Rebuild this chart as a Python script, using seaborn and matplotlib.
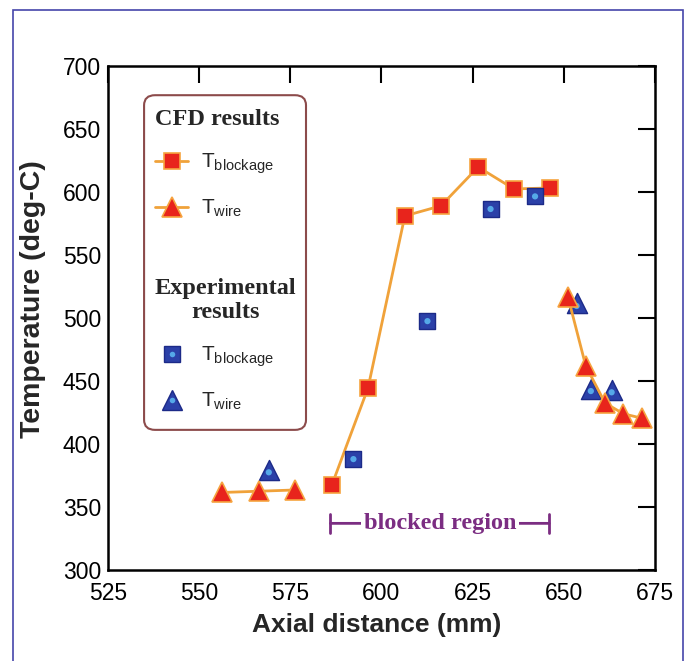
import numpy as np
import pandas as pd
import matplotlib
matplotlib.use('Agg')
import matplotlib.pyplot as plt
import seaborn as sns
from matplotlib.lines import Line2D
from matplotlib.patches import FancyBboxPatch, Rectangle

# CFD results (mm, deg-C)
cfd_block_x = [586.4, 596.3, 606.4, 616.3, 626.5, 636.3, 646.2]
cfd_block_y = [367.5, 444.4, 581.0, 589.0, 619.8, 602.4, 603.2]
cfd_wire_left_x = [556.2, 566.3, 576.3]
cfd_wire_left_y = [361.5, 362.5, 363.5]
cfd_wire_right_x = [651.1, 656.0, 661.3, 666.3, 671.3]
cfd_wire_right_y = [517.0, 462.0, 432.5, 424.0, 420.5]

# Experimental results
exp_block_x = [592.3, 612.6, 629.9, 642.1]
exp_block_y = [388.0, 497.5, 586.5, 596.5]
exp_wire_x = [569.1, 653.5, 657.4, 663.1]
exp_wire_y = [379.5, 511.5, 444.0, 443.0]

# blocked region span
blocked_span = [586, 646]
blocked_level = 337

x_ticks = [525, 550, 575, 600, 625, 650, 675]
y_ticks = [300, 350, 400, 450, 500, 550, 600, 650, 700]

sns.set_theme(style='white')
plt.rcParams['font.family'] = ['Liberation Sans', 'DejaVu Sans']
plt.rcParams['mathtext.fontset'] = 'custom'

line_c = '#F0A23A'
red = '#E8241C'
red_edge = '#F6A440'
blue = '#2B40A8'
blue_edge = '#1C2A88'
dot_c = '#55A8E8'
purple = '#7B2D82'

fig = plt.figure(figsize=(6.89, 6.61), dpi=100)
ax = fig.add_axes([0.1567, 0.1377, 0.794, 0.7625])

# CFD lines
sns.lineplot(x=cfd_block_x, y=cfd_block_y, ax=ax, color=line_c, lw=2, sort=False,
             marker='s', markersize=11.5, markerfacecolor=red, markeredgecolor=red_edge,
             markeredgewidth=1.2, zorder=4)
for xs, ys in [(cfd_wire_left_x, cfd_wire_left_y), (cfd_wire_right_x, cfd_wire_right_y)]:
    sns.lineplot(x=xs, y=ys, ax=ax, color=line_c, lw=2, sort=False,
                 marker='^', markersize=14, markerfacecolor=red, markeredgecolor=red_edge,
                 markeredgewidth=1.2, zorder=4)

# Experimental points
sns.scatterplot(x=exp_block_x, y=exp_block_y, ax=ax, marker='s', s=140, color=blue,
                edgecolor=blue_edge, linewidth=1, zorder=5, legend=False)
sns.scatterplot(x=exp_block_x, y=exp_block_y, ax=ax, marker='o', s=20, color=dot_c,
                edgecolor='none', zorder=6, legend=False)
sns.scatterplot(x=exp_wire_x, y=exp_wire_y, ax=ax, marker='^', s=210, color=blue,
                edgecolor=blue_edge, linewidth=1, zorder=3, legend=False)
sns.scatterplot(x=exp_wire_x, y=np.array(exp_wire_y) - 2, ax=ax, marker='o', s=20,
                color=dot_c, edgecolor='none', zorder=3.5, legend=False)

ax.set_xlim(525, 675)
ax.set_ylim(300, 700)
ax.set_xticks(x_ticks)
ax.set_yticks(y_ticks)
ax.tick_params(direction='in', length=12, width=1.5, top=True, right=True,
               labelsize=16.5, colors='black')
ax.tick_params(axis='x', pad=9)
ax.tick_params(axis='y', pad=5)
for sp in ax.spines.values():
    sp.set_linewidth(1.8)
    sp.set_color('black')
    sp.set_visible(True)
ax.set_xlabel('Axial distance (mm)', fontsize=19, fontweight='bold')
ax.set_ylabel('Temperature (deg-C)', fontsize=20.5, fontweight='bold')
ax.xaxis.set_label_coords(0.492, -0.085)
ax.yaxis.set_label_coords(-0.113, 0.538)

# blocked region marker
ax.annotate('', xy=(blocked_span[0], blocked_level), xytext=(blocked_span[1], blocked_level),
            arrowprops=dict(arrowstyle='|-|,widthA=0.5,widthB=0.5', color=purple, lw=2,
                            shrinkA=0, shrinkB=0, mutation_scale=14))
ax.text(np.mean(blocked_span), blocked_level, 'blocked region', color=purple,
        fontsize=17.5, fontweight='bold', family='Liberation Serif', ha='center', va='center',
        bbox=dict(facecolor='white', edgecolor='none', pad=2), zorder=6)

# legend frame
ax.add_patch(FancyBboxPatch((0.066, 0.278), 0.296, 0.664, transform=ax.transAxes,
                            boxstyle='round,pad=0,rounding_size=0.02', facecolor='white',
                            edgecolor='#8C4B4B', lw=1.5, zorder=7))

title_font = dict(family='Liberation Serif', weight='bold', size=17.5)
leg_kw = dict(frameon=False, fontsize=15, handlelength=1.6, handletextpad=0.6,
              labelspacing=1.05, borderpad=0, borderaxespad=0, alignment='left')

h_cb = Line2D([], [], color=line_c, lw=2, marker='s', ms=11.5, mfc=red, mec=red_edge, mew=1.2)
h_cw = Line2D([], [], color=line_c, lw=2, marker='^', ms=14, mfc=red, mec=red_edge, mew=1.2)
leg1 = ax.legend([h_cb, h_cw], [r'$\mathregular{T_{blockage}}$', r'$\mathregular{T_{wire}}$'],
                 loc='upper left', bbox_to_anchor=(0.086, 0.915), title='CFD results',
                 title_fontproperties=title_font, **leg_kw)
leg1.set_zorder(8)
ax.add_artist(leg1)

h_eb = (Line2D([], [], ls='none', marker='s', ms=11, mfc=blue, mec=blue_edge),
        Line2D([], [], ls='none', marker='o', ms=4, mfc=dot_c, mec='none'))
h_ew = (Line2D([], [], ls='none', marker='^', ms=14, mfc=blue, mec=blue_edge),
        Line2D([], [], ls='none', marker='o', ms=4, mfc=dot_c, mec='none'))
leg2 = ax.legend([h_eb, h_ew], [r'$\mathregular{T_{blockage}}$', r'$\mathregular{T_{wire}}$'],
                 loc='upper left', bbox_to_anchor=(0.086, 0.58), title='Experimental\nresults',
                 title_fontproperties=title_font, **leg_kw)
leg2.get_title().set_multialignment('center')
leg2.set_zorder(8)

# outer border of the figure
fig.add_artist(Rectangle((13 / 689, -0.05), (683 - 13) / 689, (661 - 10) / 661 + 0.05,
                         transform=fig.transFigure, fill=False, edgecolor='#4646AA',
                         lw=1.2, clip_on=False))

fig.savefig('out.png', dpi=100)
